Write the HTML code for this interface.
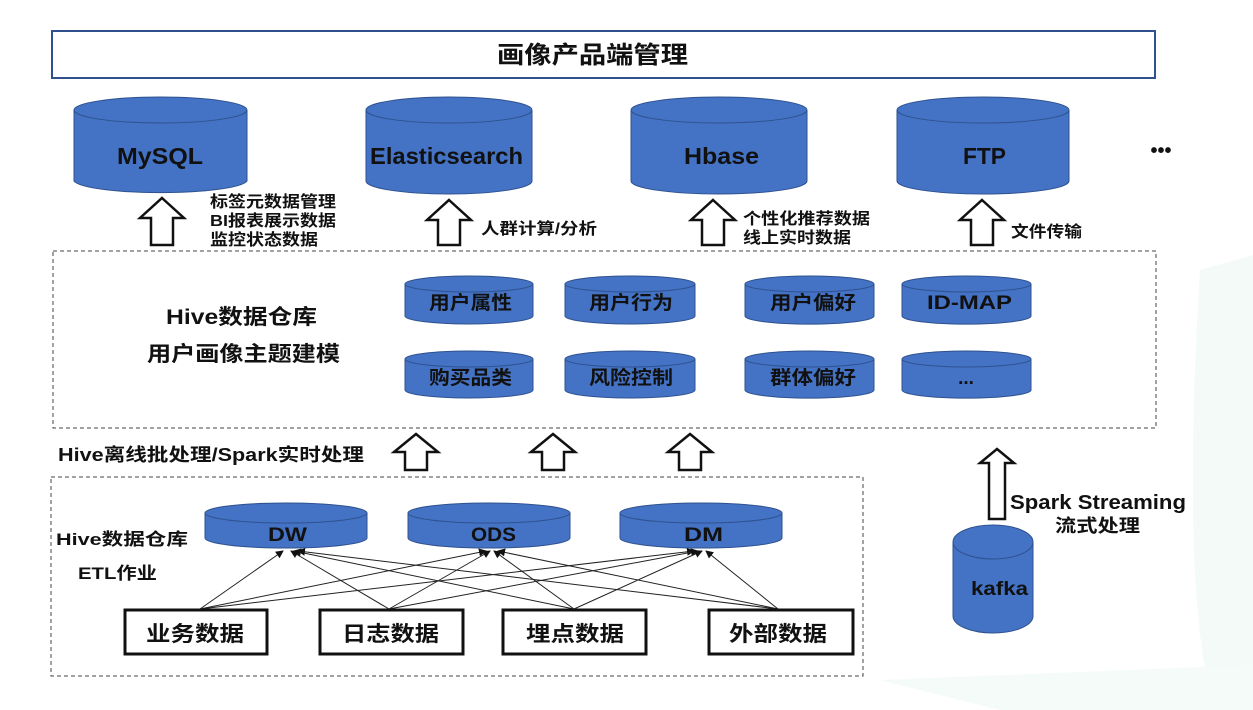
<!DOCTYPE html>
<html><head><meta charset="utf-8"><style>
html,body{margin:0;padding:0;background:#fff;}
svg{display:block;}
text{font-family:"Liberation Sans","Noto Sans CJK SC",sans-serif;font-weight:bold;fill:#111;}
</style></head><body>
<svg width="1253" height="710" viewBox="0 0 1253 710" xmlns="http://www.w3.org/2000/svg">
<defs>
<marker id="ah" markerWidth="8" markerHeight="8" refX="7" refY="4" orient="auto" markerUnits="userSpaceOnUse"><path d="M0,0 L8,4 L0,8 z" fill="#111"/></marker>
</defs>
<path d="M1200,270 L1253,255 L1253,710 L1215,710 Q1180,600 1200,270 z" fill="#f3faf8"/>
<path d="M880,680 L1253,665 L1253,710 L1000,710 z" fill="#f5fbf9"/>

<rect x="52" y="31" width="1103" height="47" fill="#fff" stroke="#2F528F" stroke-width="2"/>
<text x="497" y="63" font-size="24" textLength="191" lengthAdjust="spacingAndGlyphs">画像产品端管理</text>

<g fill="#4472C4" stroke="#2F528F" stroke-width="1">
<path d="M74,110 L74,181 A87,13 0 0 0 247,181 L247,110"/><ellipse cx="160.5" cy="110" rx="86.5" ry="13"/>
<path d="M366,110 L366,181 A83,13 0 0 0 532,181 L532,110"/><ellipse cx="449" cy="110" rx="83" ry="13"/>
<path d="M631,110 L631,181 A88,13 0 0 0 807,181 L807,110"/><ellipse cx="719" cy="110" rx="88" ry="13"/>
<path d="M897,110 L897,181 A86,13 0 0 0 1069,181 L1069,110"/><ellipse cx="983" cy="110" rx="86" ry="13"/>
<path d="M405,284 L405,316 A64,8 0 0 0 533,316 L533,284"/><ellipse cx="469" cy="284" rx="64" ry="8"/>
<path d="M565,284 L565,316 A65,8 0 0 0 695,316 L695,284"/><ellipse cx="630" cy="284" rx="65" ry="8"/>
<path d="M745,284 L745,316 A64,8 0 0 0 874,316 L874,284"/><ellipse cx="809.5" cy="284" rx="64.5" ry="8"/>
<path d="M902,284 L902,316 A64,8 0 0 0 1031,316 L1031,284"/><ellipse cx="966.5" cy="284" rx="64.5" ry="8"/>
<path d="M405,359 L405,390 A64,8 0 0 0 533,390 L533,359"/><ellipse cx="469" cy="359" rx="64" ry="8"/>
<path d="M565,359 L565,390 A65,8 0 0 0 695,390 L695,359"/><ellipse cx="630" cy="359" rx="65" ry="8"/>
<path d="M745,359 L745,390 A64,8 0 0 0 874,390 L874,359"/><ellipse cx="809.5" cy="359" rx="64.5" ry="8"/>
<path d="M902,359 L902,390 A64,8 0 0 0 1031,390 L1031,359"/><ellipse cx="966.5" cy="359" rx="64.5" ry="8"/>
<path d="M205,513 L205,538 A81,10 0 0 0 367,538 L367,513"/><ellipse cx="286" cy="513" rx="81" ry="10"/>
<path d="M408,513 L408,538 A81,10 0 0 0 570,538 L570,513"/><ellipse cx="489" cy="513" rx="81" ry="10"/>
<path d="M620,513 L620,538 A81,10 0 0 0 782,538 L782,513"/><ellipse cx="701" cy="513" rx="81" ry="10"/>
<path d="M953,542 L953,616 A40,17 0 0 0 1033,616 L1033,542"/><ellipse cx="993" cy="542" rx="40" ry="17"/>
</g>

<text x="117" y="164" font-size="23" textLength="86" lengthAdjust="spacingAndGlyphs">MySQL</text>
<text x="370" y="164" font-size="23" textLength="153" lengthAdjust="spacingAndGlyphs">Elasticsearch</text>
<text x="684" y="164" font-size="23" textLength="75" lengthAdjust="spacingAndGlyphs">Hbase</text>
<text x="963" y="164" font-size="23" textLength="43" lengthAdjust="spacingAndGlyphs">FTP</text>
<text x="1161" y="157" font-size="20" text-anchor="middle">•••</text>

<g font-size="19">
<text x="429" y="309" textLength="83" lengthAdjust="spacingAndGlyphs">用户属性</text>
<text x="589" y="309" textLength="84" lengthAdjust="spacingAndGlyphs">用户行为</text>
<text x="770" y="309" textLength="86" lengthAdjust="spacingAndGlyphs">用户偏好</text>
<text x="927" y="309" textLength="85" lengthAdjust="spacingAndGlyphs">ID-MAP</text>
<text x="429" y="384" textLength="83" lengthAdjust="spacingAndGlyphs">购买品类</text>
<text x="589" y="384" textLength="84" lengthAdjust="spacingAndGlyphs">风险控制</text>
<text x="770" y="384" textLength="86" lengthAdjust="spacingAndGlyphs">群体偏好</text>
<text x="966" y="384" text-anchor="middle">...</text>
<text x="268" y="541" textLength="39" lengthAdjust="spacingAndGlyphs">DW</text>
<text x="471" y="541" textLength="45" lengthAdjust="spacingAndGlyphs">ODS</text>
<text x="684" y="541" textLength="39" lengthAdjust="spacingAndGlyphs">DM</text>
<text x="971" y="595" textLength="57" lengthAdjust="spacingAndGlyphs">kafka</text>
</g>

<g fill="#fff" stroke="#111" stroke-width="2.5">
<path d="M162,198 L184,218 L173,218 L173,245 L151,245 L151,218 L140,218 z"/>
<path d="M449,200 L471,220 L460,220 L460,245 L438,245 L438,220 L427,220 z"/>
<path d="M713,200 L735,220 L724,220 L724,245 L702,245 L702,220 L691,220 z"/>
<path d="M982,200 L1004,220 L993,220 L993,245 L971,245 L971,220 L960,220 z"/>
<path d="M416,434 L438,452 L427,452 L427,470 L405,470 L405,452 L394,452 z"/>
<path d="M553,434 L575,452 L564,452 L564,470 L542,470 L542,452 L531,452 z"/>
<path d="M690,434 L712,452 L701,452 L701,470 L679,470 L679,452 L668,452 z"/>
<path d="M997,449 L1014,463 L1005,463 L1005,519 L989,519 L989,463 L980,463 z"/>
</g>

<g font-size="16">
<text x="210" y="207" textLength="126" lengthAdjust="spacingAndGlyphs">标签元数据管理</text>
<text x="210" y="226" textLength="126" lengthAdjust="spacingAndGlyphs">BI报表展示数据</text>
<text x="210" y="245" textLength="108" lengthAdjust="spacingAndGlyphs">监控状态数据</text>
<text x="481" y="234" textLength="116" lengthAdjust="spacingAndGlyphs">人群计算/分析</text>
<text x="743" y="224" textLength="127" lengthAdjust="spacingAndGlyphs">个性化推荐数据</text>
<text x="743" y="243" textLength="108" lengthAdjust="spacingAndGlyphs">线上实时数据</text>
<text x="1011" y="237" textLength="71" lengthAdjust="spacingAndGlyphs">文件传输</text>
</g>

<rect x="53" y="251" width="1103" height="177" fill="none" stroke="#444" stroke-width="1" stroke-dasharray="4,3"/>
<text x="166" y="324" font-size="21" textLength="151" lengthAdjust="spacingAndGlyphs">Hive数据仓库</text>
<text x="147" y="361" font-size="21" textLength="193" lengthAdjust="spacingAndGlyphs">用户画像主题建模</text>

<text x="58" y="461" font-size="18" textLength="306" lengthAdjust="spacingAndGlyphs">Hive离线批处理/Spark实时处理</text>

<rect x="51" y="477" width="812" height="199" fill="none" stroke="#444" stroke-width="1" stroke-dasharray="4,3"/>
<text x="56" y="545" font-size="17" textLength="132" lengthAdjust="spacingAndGlyphs">Hive数据仓库</text>
<text x="78" y="579" font-size="17" textLength="79" lengthAdjust="spacingAndGlyphs">ETL作业</text>

<text x="1010" y="509" font-size="20" textLength="176" lengthAdjust="spacingAndGlyphs">Spark Streaming</text>
<text x="1055" y="532" font-size="18" textLength="85" lengthAdjust="spacingAndGlyphs">流式处理</text>

<g stroke="#222" stroke-width="1" marker-end="url(#ah)">
<line x1="200" y1="609" x2="283" y2="551"/>
<line x1="200" y1="609" x2="486" y2="551"/>
<line x1="200" y1="609" x2="694" y2="551"/>
<line x1="389" y1="609" x2="291" y2="551"/>
<line x1="389" y1="609" x2="490" y2="551"/>
<line x1="389" y1="609" x2="698" y2="551"/>
<line x1="574" y1="609" x2="294" y2="551"/>
<line x1="574" y1="609" x2="494" y2="551"/>
<line x1="574" y1="609" x2="702" y2="551"/>
<line x1="778" y1="609" x2="298" y2="551"/>
<line x1="778" y1="609" x2="498" y2="551"/>
<line x1="778" y1="609" x2="706" y2="551"/>
</g>

<g fill="#fff" stroke="#111" stroke-width="3">
<rect x="125" y="610" width="142" height="44"/>
<rect x="320" y="610" width="143" height="44"/>
<rect x="503" y="610" width="143" height="44"/>
<rect x="709" y="610" width="144" height="44"/>
</g>
<g font-size="21">
<text x="146" y="641" textLength="98" lengthAdjust="spacingAndGlyphs">业务数据</text>
<text x="342" y="641" textLength="97" lengthAdjust="spacingAndGlyphs">日志数据</text>
<text x="526" y="641" textLength="98" lengthAdjust="spacingAndGlyphs">埋点数据</text>
<text x="729" y="641" textLength="98" lengthAdjust="spacingAndGlyphs">外部数据</text>
</g>
</svg>
</body></html>
